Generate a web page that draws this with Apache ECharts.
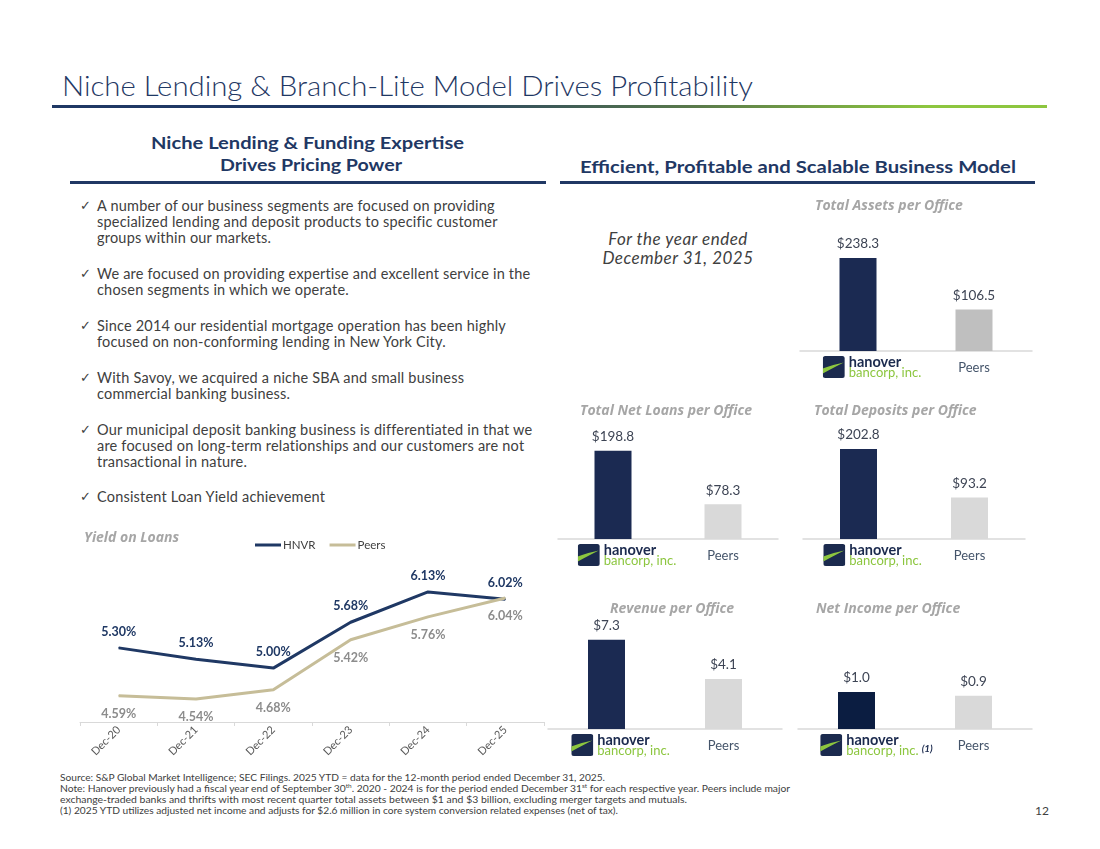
<!DOCTYPE html>
<html>
<head>
<meta charset="utf-8">
<script src="https://cdn.jsdelivr.net/npm/echarts@6.0.0/dist/echarts.min.js"></script>
<style>
  html, body { margin: 0; padding: 0; background: #fff; }
  #page { position: relative; width: 1100px; height: 849px; overflow: hidden; font-family: Lato, "Open Sans", sans-serif; color: #404040; }
  .abs { position: absolute; white-space: nowrap; }
  .fit { transform-origin: left center; display: inline-block; }
  .title { left: 62px; top: 68px; font-size: 28px; color: #1f3864; font-weight: 300; }
  .rule-grad { left: 52px; top: 105px; width: 995px; height: 3px;
    background: linear-gradient(to right, #1f3864 0%, #1f3864 35%, #5a7a4a 65%, #8dc63f 88%, #8dc63f 100%); }
  .hdr { font-weight: 700; color: #1f3864; font-size: 17px; }
  .rule { height: 3px; background: #203864; }
  .bullet { left: 80px; font-size: 14.5px; letter-spacing: 0.2px; line-height: 16px; color: #404040; }
  .bullet .ck { position: absolute; left: 0; top: 0; font-family: "DejaVu Sans"; font-size: 13px; }
  .bullet .tx { position: absolute; left: 17px; top: 0; }
  .note { left: 60px; font-size: 9.5px; color: #404040; }
  .note sup { font-size: 6px; vertical-align: 4px; line-height: 0; }
  .yr { font-style: italic; font-size: 17px; letter-spacing: 0.5px; color: #404040; text-align: center; line-height: 19px; }
  .chart { position: absolute; }
</style>
</head>
<body>
<div id="page">
  <div class="abs title"><span class="fit" data-w="691">Niche Lending &amp; Branch-Lite Model Drives Profitability</span></div>
  <div class="abs rule-grad"></div>

  <div class="abs hdr" style="left:151px;top:132px;"><span class="fit" data-w="313">Niche Lending &amp; Funding Expertise</span></div>
  <div class="abs hdr" style="left:220px;top:154px;"><span class="fit" data-w="182">Drives Pricing Power</span></div>
  <div class="abs rule" style="left:70px;top:181px;width:476px;"></div>

  <div class="abs hdr" style="left:580px;top:156px;"><span class="fit" data-w="436">Efficient, Profitable and Scalable Business Model</span></div>
  <div class="abs rule" style="left:560px;top:181px;width:475px;"></div>

  <div class="abs bullet" style="top:198px;"><span class="ck">&#10003;</span><span class="tx">A number of our business segments are focused on providing<br>specialized lending and deposit products to specific customer<br>groups within our markets.</span></div>
  <div class="abs bullet" style="top:266px;"><span class="ck">&#10003;</span><span class="tx">We are focused on providing expertise and excellent service in the<br>chosen segments in which we operate.</span></div>
  <div class="abs bullet" style="top:318px;"><span class="ck">&#10003;</span><span class="tx">Since 2014 our residential mortgage operation has been highly<br>focused on non-conforming lending in New York City.</span></div>
  <div class="abs bullet" style="top:370px;"><span class="ck">&#10003;</span><span class="tx">With Savoy, we acquired a niche SBA and small business<br>commercial banking business.</span></div>
  <div class="abs bullet" style="top:422px;"><span class="ck">&#10003;</span><span class="tx">Our municipal deposit banking business is differentiated in that we<br>are focused on long-term relationships and our customers are not<br>transactional in nature.</span></div>
  <div class="abs bullet" style="top:489px;"><span class="ck">&#10003;</span><span class="tx">Consistent Loan Yield achievement</span></div>

  <div class="abs yr" style="left:588px;top:229px;width:180px;">For the year ended<br>December 31, 2025</div>

  <div id="yieldChart" class="chart" style="left:60px;top:520px;width:490px;height:250px;"></div>
  <div id="assetsChart" class="chart" style="left:780px;top:190px;width:270px;height:200px;"></div>
  <div id="loansChart" class="chart" style="left:550px;top:395px;width:240px;height:185px;"></div>
  <div id="depositsChart" class="chart" style="left:790px;top:395px;width:250px;height:185px;"></div>
  <div id="revenueChart" class="chart" style="left:540px;top:590px;width:250px;height:175px;"></div>
  <div id="incomeChart" class="chart" style="left:790px;top:590px;width:250px;height:175px;"></div>

  <div class="abs note" style="top:772px;"><span class="fit" data-w="545">Source: S&amp;P Global Market Intelligence; SEC Filings. 2025 YTD = data for the 12-month period ended December 31, 2025.</span></div>
  <div class="abs note" style="top:783px;"><span class="fit" data-w="730">Note: Hanover previously had a fiscal year end of September 30<sup>th</sup>. 2020 - 2024 is for the period ended December 31<sup>st</sup> for each respective year. Peers include major</span></div>
  <div class="abs note" style="top:794px;"><span class="fit" data-w="627">exchange-traded banks and thrifts with most recent quarter total assets between $1 and $3 billion, excluding merger targets and mutuals.</span></div>
  <div class="abs note" style="top:805px;"><span class="fit" data-w="558">(1) 2025 YTD utilizes adjusted net income and adjusts for $2.6 million in core system conversion related expenses (net of tax).</span></div>
  <div class="abs" style="left:1035px;top:803px;font-size:12px;color:#404040;">12</div>
</div>

<script>
// ---- data ----
var yieldCats = ['Dec-20', 'Dec-21', 'Dec-22', 'Dec-23', 'Dec-24', 'Dec-25'];
var hnvrYield = [5.30, 5.13, 5.00, 5.68, 6.13, 6.02];
var peersYield = [4.59, 4.54, 4.68, 5.42, 5.76, 6.04];

var barCats = ['HNVR', 'Peers'];
var assetsPerOffice = [238.3, 106.5];
var loansPerOffice = [198.8, 78.3];
var depositsPerOffice = [202.8, 93.2];
var revenuePerOffice = [7.3, 4.1];
var netIncomePerOffice = [1.0, 0.9];

// squeeze layout text to the widths in the slide
var fits = document.querySelectorAll('.fit');
for (var i = 0; i < fits.length; i++) {
    var w = fits[i].getBoundingClientRect().width;
    var target = +fits[i].getAttribute('data-w');
    if (w > 0) fits[i].style.transform = 'scaleX(' + (target / w) + ')';
}

var NAVY = '#1b2a52';
var FONT = 'Lato';
var TFONT = 'Open Sans';

// logo split in two halves so it can sit beside the two text lines
function logoHalf(top) {
    var svg = '<svg xmlns="http://www.w3.org/2000/svg" width="22" height="12" viewBox="0 ' + (top ? 0 : 12) + ' 22 12">' +
        '<rect x="0" y="1" width="22" height="22" rx="2.5" fill="#1b2a4e"/>' +
        '<path d="M0 13.5 Q10 9.8 21 7.5 Q11 12.5 0 18.5 Z" fill="#8dc63f"/></svg>';
    return 'data:image/svg+xml;charset=utf-8,' + encodeURIComponent(svg);
}
var logoTop = logoHalf(true), logoBottom = logoHalf(false);

// ---- yield on loans ----
var yieldChart = echarts.init(document.getElementById('yieldChart'));
yieldChart.setOption({
    animation: false,
    title: {
        text: 'Yield on Loans', left: 19, top: 6,
        textStyle: { fontFamily: TFONT, fontStyle: 'italic', fontWeight: 'bold', fontSize: 14, color: '#a6a6a6' }
    },
    legend: {
        data: ['HNVR', 'Peers'], left: 190, top: 14,
        icon: 'rect', itemWidth: 26, itemHeight: 3, itemGap: 14,
        textStyle: { fontFamily: FONT, fontSize: 11.5, color: '#404040', padding: [0, 0, 0, -3] }
    },
    grid: { left: 20, top: 47, width: 464, height: 155, outerBoundsMode: 'none' },
    xAxis: {
        type: 'category',
        data: yieldCats,
        boundaryGap: true,
        axisLine: { lineStyle: { color: '#d9d9d9', width: 1 } },
        axisTick: { show: true, length: 4, lineStyle: { color: '#d9d9d9' } },
        axisLabel: { rotate: 45, interval: 0, fontFamily: FONT, fontSize: 11, color: '#595959', margin: 6 }
    },
    yAxis: { type: 'value', min: 4.2, max: 6.5, show: false, splitLine: { show: false } },
    series: [
        {
            name: 'HNVR', type: 'line', data: hnvrYield,
            symbol: 'circle', symbolSize: 1,
            lineStyle: { width: 3, color: '#1f3864' },
            itemStyle: { color: '#1f3864' },
            label: {
                show: true, position: 'top', distance: 9,
                formatter: function (p) { return p.value.toFixed(2) + '%'; },
                fontFamily: FONT, fontWeight: 'bold', fontSize: 12.5, color: '#1f3864'
            }
        },
        {
            name: 'Peers', type: 'line', data: peersYield,
            symbol: 'circle', symbolSize: 1,
            lineStyle: { width: 3, color: '#c6bd98' },
            itemStyle: { color: '#c6bd98' },
            label: {
                show: true, position: 'bottom', distance: 11,
                formatter: function (p) { return p.value.toFixed(2) + '%'; },
                fontFamily: FONT, fontWeight: 'bold', fontSize: 12.5, color: '#8c8c8c'
            }
        }
    ]
});

// ---- per office bars ----
function barChart(id, title, values, cfg) {
    var chart = echarts.init(document.getElementById(id));
    var colors = [cfg.hnvrColor || NAVY, cfg.peersColor || '#d9d9d9'];
    var note = cfg.note ? '{n|' + cfg.note + '}' : '';
    var sp = '{sp|}';
    var grid = cfg.grid;
    grid.outerBoundsMode = 'none';
    chart.setOption({
        animation: false,
        title: {
            text: title, left: cfg.titleLeft, top: cfg.titleTop,
            textStyle: { fontFamily: TFONT, fontStyle: 'italic', fontWeight: 'bold', fontSize: 14, color: '#a6a6a6' }
        },
        grid: grid,
        xAxis: {
            type: 'category',
            data: barCats,
            axisLine: { lineStyle: { color: '#d9d9d9', width: 1.5 } },
            axisTick: { show: false },
            axisLabel: {
                margin: 4,
                interval: 0,
                hideOverlap: false,
                formatter: function (v) {
                    if (v === 'HNVR') {
                        return sp + '{lt|}{h|hanover}\n' + sp + '{lb|}{b|bancorp, inc.}' + note;
                    }
                    return '{p|' + v + '}';
                },
                rich: {
                    sp: { width: cfg.shift || 26, height: 12, align: 'left' },
                    lt: { backgroundColor: { image: logoTop }, width: 22, height: 12, align: 'left' },
                    lb: { backgroundColor: { image: logoBottom }, width: 22, height: 12, align: 'left' },
                    h: { fontFamily: FONT, fontWeight: 'bold', fontSize: 14.5, color: '#1b2a4e', lineHeight: 12, padding: [2, 0, 0, 4], align: 'left' },
                    b: { fontFamily: FONT, fontSize: 13, color: '#8cc63f', lineHeight: 12, padding: [0, 0, 0, 4], align: 'left' },
                    n: { fontFamily: FONT, fontStyle: 'italic', fontWeight: 'bold', fontSize: 10, color: '#1b2a4e', lineHeight: 12, padding: [0, 0, 4, 3], align: 'left' },
                    p: { fontFamily: FONT, fontSize: 13, color: '#44546a', lineHeight: 26 }
                }
            }
        },
        yAxis: { type: 'value', min: 0, max: cfg.max, show: false, splitLine: { show: false } },
        series: [{
            type: 'bar',
            data: values,
            barWidth: 37,
            itemStyle: { color: function (p) { return colors[p.dataIndex]; } },
            label: {
                show: true, position: 'top', distance: 7,
                formatter: function (p) { return '$' + p.value.toFixed(1); },
                fontFamily: FONT, fontSize: 13.5, color: '#3d4454'
            }
        }]
    });
    return chart;
}

barChart('assetsChart', 'Total Assets per Office', assetsPerOffice, {
    grid: { left: 20, top: 44, width: 232, height: 117 }, max: 300,
    titleLeft: 30, titleTop: 4, peersColor: '#bfbfbf', shift: 28
});
barChart('loansChart', 'Total Net Loans per Office', loansPerOffice, {
    grid: { left: 8, top: 33, width: 220, height: 111 }, max: 250,
    titleLeft: 25, titleTop: 4, shift: 28
});
barChart('depositsChart', 'Total Deposits per Office', depositsPerOffice, {
    grid: { left: 13, top: 33, width: 222, height: 111 }, max: 250,
    titleLeft: 19, titleTop: 4, shift: 28
});
barChart('revenueChart', 'Revenue per Office', revenuePerOffice, {
    grid: { left: 8, top: 29, width: 234, height: 110 }, max: 9,
    titleLeft: 65, titleTop: 7, shift: 28
});
barChart('incomeChart', 'Net Income per Office', netIncomePerOffice, {
    grid: { left: 8, top: 28, width: 234, height: 111 }, max: 3,
    titleLeft: 21, titleTop: 7, hnvrColor: '#0b1d41', note: '(1)', shift: 40
});
</script>
</body>
</html>
